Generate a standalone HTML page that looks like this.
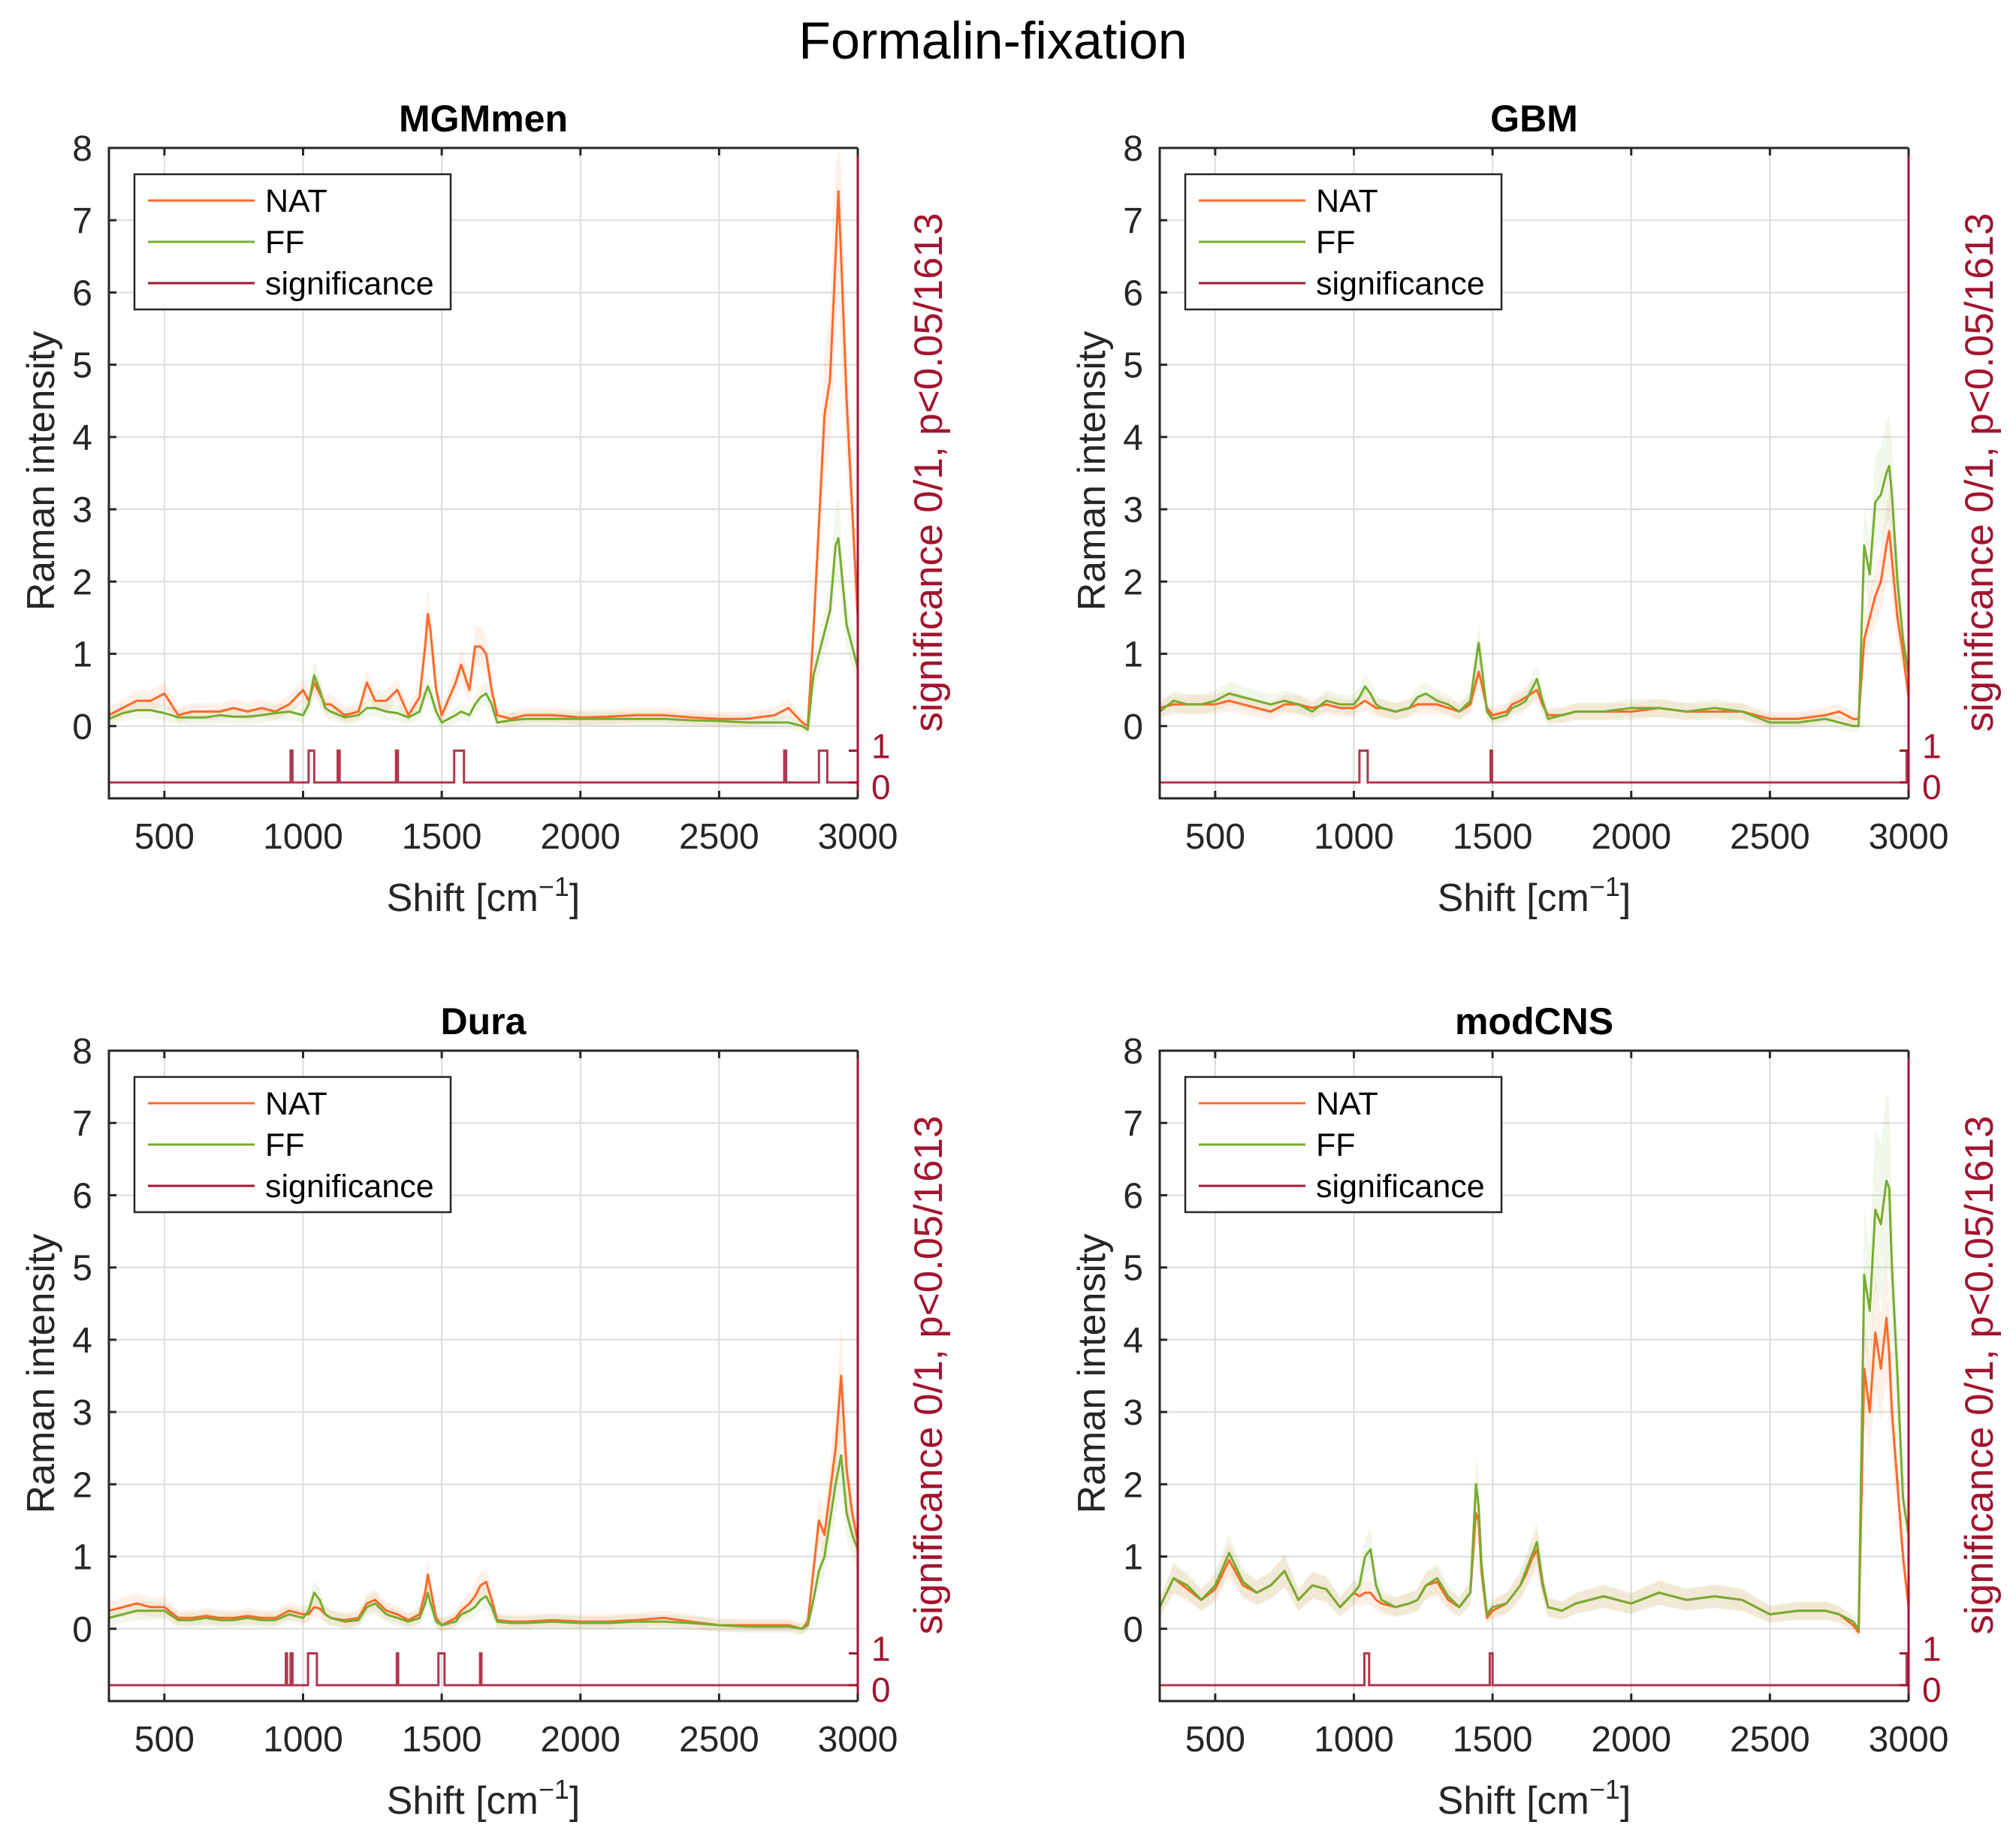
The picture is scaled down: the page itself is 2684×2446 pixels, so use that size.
<!DOCTYPE html>
<html><head><meta charset="utf-8">
<style>
html,body{margin:0;padding:0;background:#fff;}
svg{display:block;font-family:"Liberation Sans",Arial,sans-serif;}
</style></head>
<body>
<svg id="fig" width="2684" height="2446" viewBox="0 0 2684 2446" xmlns="http://www.w3.org/2000/svg">
<rect width="2684" height="2446" fill="#fff"/>
<text x="1322" y="78" font-size="70" text-anchor="middle" fill="#000">Formalin-fixation</text>
</svg>
<script>
const shifts=[300,350,400,450,500,550,600,650,700,750,800,850,900,950,1000,1020,1040,1060,1080,1100,1150,1200,1230,1260,1300,1340,1380,1420,1440,1450,1460,1480,1500,1550,1570,1600,1620,1640,1660,1680,1700,1750,1800,1900,2000,2100,2200,2300,2400,2500,2600,2700,2750,2800,2820,2840,2860,2880,2900,2920,2930,2940,2960,2980,3000];
const xTicks=[500,1000,1500,2000,2500,3000];
const yTicks=[0,1,2,3,4,5,6,7,8];
const panelTitles=["MGMmen","GBM","Dura","modCNS"];

const mgmNat=[0.15,0.25,0.35,0.35,0.45,0.15,0.2,0.2,0.2,0.25,0.2,0.25,0.2,0.3,0.5,0.35,0.6,0.45,0.3,0.3,0.15,0.2,0.6,0.35,0.35,0.5,0.15,0.4,1.1,1.55,1.3,0.5,0.15,0.6,0.85,0.5,1.1,1.1,1.0,0.5,0.15,0.1,0.15,0.15,0.12,0.13,0.15,0.15,0.12,0.1,0.1,0.15,0.25,0.05,0.0,1.3,2.8,4.3,4.8,6.5,7.4,6.5,4.5,3.0,1.5];
const mgmFF=[0.1,0.18,0.22,0.22,0.18,0.12,0.12,0.12,0.15,0.13,0.13,0.15,0.18,0.2,0.15,0.3,0.7,0.5,0.25,0.2,0.12,0.15,0.25,0.25,0.2,0.18,0.12,0.2,0.45,0.55,0.45,0.2,0.05,0.15,0.2,0.15,0.3,0.4,0.45,0.3,0.05,0.08,0.1,0.1,0.1,0.1,0.1,0.1,0.08,0.07,0.05,0.05,0.05,0.0,-0.05,0.7,1.0,1.3,1.6,2.5,2.6,2.2,1.4,1.1,0.8];
const mgmSigStart=[955,1020,1125,1335,1545,2735,2860];
const mgmSigEnd=[962,1040,1132,1342,1580,2742,2890];

const gbmNat=[0.25,0.3,0.3,0.3,0.3,0.35,0.3,0.25,0.2,0.3,0.3,0.25,0.3,0.25,0.25,0.3,0.35,0.3,0.25,0.25,0.2,0.25,0.3,0.3,0.3,0.25,0.2,0.3,0.6,0.75,0.6,0.25,0.15,0.2,0.3,0.35,0.4,0.45,0.5,0.3,0.15,0.15,0.2,0.2,0.2,0.25,0.2,0.2,0.2,0.1,0.1,0.15,0.2,0.1,0.1,1.2,1.5,1.8,2.0,2.5,2.7,2.3,1.5,1.0,0.4];
const gbmFF=[0.2,0.35,0.3,0.3,0.35,0.45,0.4,0.35,0.3,0.35,0.3,0.2,0.35,0.3,0.3,0.4,0.55,0.45,0.3,0.25,0.2,0.25,0.4,0.45,0.35,0.3,0.2,0.35,0.9,1.15,0.85,0.2,0.1,0.15,0.25,0.3,0.35,0.5,0.65,0.35,0.1,0.15,0.2,0.2,0.25,0.25,0.2,0.25,0.2,0.05,0.05,0.1,0.05,0.0,0.0,2.5,2.1,3.1,3.2,3.5,3.6,3.2,2.0,1.2,0.7];
const gbmSigStart=[1020,1493,2993];
const gbmSigEnd=[1050,1498,3000];

const duraNat=[0.25,0.3,0.35,0.3,0.3,0.15,0.15,0.18,0.15,0.15,0.18,0.15,0.15,0.25,0.2,0.2,0.3,0.28,0.2,0.15,0.12,0.15,0.35,0.4,0.25,0.2,0.12,0.2,0.5,0.75,0.55,0.15,0.05,0.15,0.25,0.35,0.45,0.6,0.65,0.4,0.12,0.1,0.1,0.12,0.1,0.1,0.12,0.15,0.1,0.05,0.05,0.05,0.05,0.0,0.1,0.8,1.5,1.3,1.9,2.5,3.0,3.5,2.2,1.6,1.2];
const duraFF=[0.15,0.2,0.25,0.25,0.25,0.12,0.12,0.15,0.12,0.12,0.15,0.12,0.12,0.2,0.15,0.25,0.5,0.4,0.2,0.15,0.1,0.12,0.3,0.35,0.2,0.15,0.1,0.15,0.35,0.5,0.35,0.1,0.05,0.1,0.2,0.25,0.3,0.4,0.45,0.3,0.1,0.08,0.08,0.1,0.08,0.08,0.1,0.1,0.08,0.05,0.03,0.03,0.03,0.0,0.05,0.4,0.8,1.0,1.5,2.0,2.2,2.4,1.6,1.3,1.1];
const duraSigStart=[938,955,1018,1338,1488,1638];
const duraSigEnd=[942,962,1050,1343,1510,1643];

const cnsNat=[0.3,0.7,0.55,0.4,0.55,0.95,0.6,0.5,0.6,0.8,0.4,0.6,0.55,0.3,0.5,0.45,0.5,0.5,0.4,0.35,0.3,0.35,0.4,0.6,0.65,0.4,0.3,0.5,1.6,1.5,0.8,0.15,0.25,0.35,0.45,0.6,0.75,0.95,1.1,0.6,0.3,0.25,0.35,0.45,0.35,0.5,0.4,0.45,0.4,0.2,0.25,0.25,0.2,0.05,-0.05,3.6,3.0,4.1,3.6,4.3,3.8,3.0,2.0,1.0,0.3];
const cnsFF=[0.3,0.7,0.6,0.4,0.6,1.05,0.65,0.5,0.6,0.8,0.4,0.6,0.55,0.3,0.5,0.6,1.0,1.1,0.6,0.4,0.3,0.35,0.4,0.6,0.7,0.45,0.3,0.5,2.0,1.7,0.9,0.2,0.3,0.35,0.45,0.6,0.8,1.0,1.2,0.65,0.3,0.25,0.35,0.45,0.35,0.5,0.4,0.45,0.4,0.2,0.25,0.25,0.2,0.1,0.0,4.9,4.4,5.8,5.6,6.2,6.1,5.0,3.5,1.8,1.3];
const cnsSigStart=[1038,1490,2993];
const cnsSigEnd=[1055,1500,3000];

const natSeries=[mgmNat,gbmNat,duraNat,cnsNat];
const ffSeries=[mgmFF,gbmFF,duraFF,cnsFF];
const sigStarts=[mgmSigStart,gbmSigStart,duraSigStart,cnsSigStart];
const sigEnds=[mgmSigEnd,gbmSigEnd,duraSigEnd,cnsSigEnd];

const NS="http://www.w3.org/2000/svg";
const svg=document.getElementById('fig');
function mk(tag,attrs,parent){const e=document.createElementNS(NS,tag);for(const k in attrs)e.setAttribute(k,attrs[k]);(parent||svg).appendChild(e);return e;}
const lefts=[145,1544],tops=[197,1399];
const W=997,H=866,XMIN=300,XMAX=3000,YMIN=-1,YMAX=8;
const NATC="#ff6929",FFC="#77ac30",SIGC="#a2142f";

for(let p=0;p<4;p++){
  const L=lefts[p%2],T=tops[Math.floor(p/2)];
  const xs=v=>L+(v-XMIN)/(XMAX-XMIN)*W;
  const ys=v=>T+(YMAX-v)/(YMAX-YMIN)*H;
  const sigY=s=>ys(-0.78+s*0.44);
  const g=mk('g',{});
  
  
  xTicks.forEach(t=>{const l=mk('line',{x1:xs(t),x2:xs(t),y1:T,y2:T+H,stroke:'#dcdcdc','stroke-width':2},g);
    });
  yTicks.forEach(t=>{const l=mk('line',{x1:L,x2:L+W,y1:ys(t),y2:ys(t),stroke:'#dcdcdc','stroke-width':2},g);
    });
  [[natSeries[p],NATC,'nat'],[ffSeries[p],FFC,'ff']].forEach(([arr,c,nm])=>{
    let up='',dn='';
    shifts.forEach((s,i)=>{const b=0.08+0.18*Math.abs(arr[i]);
      up+=(i?'L':'M')+xs(s).toFixed(1)+','+Math.max(T,ys(arr[i]+b)).toFixed(1);});
    for(let i=shifts.length-1;i>=0;i--){const b=0.08+0.18*Math.abs(arr[i]);dn+='L'+xs(shifts[i]).toFixed(1)+','+ys(arr[i]-b).toFixed(1);}
    const band=mk('path',{d:up+dn+'Z',fill:c,'fill-opacity':0.1,stroke:'none'},g);
    
  });
  [[natSeries[p],NATC,'nat'],[ffSeries[p],FFC,'ff']].forEach(([arr,c,nm])=>{
    const d=shifts.map((s,i)=>(i?'L':'M')+xs(s).toFixed(1)+','+ys(arr[i]).toFixed(1)).join('');
    const pl=mk('path',{d:d,fill:'none',stroke:c,'stroke-width':3,'stroke-linejoin':'round'},g);
    
  });
  let sd='M'+xs(XMIN)+','+sigY(0);
  sigStarts[p].forEach((s,i)=>{const e=sigEnds[p][i];sd+='L'+xs(s).toFixed(1)+','+sigY(0)+'L'+xs(s).toFixed(1)+','+sigY(1)+'L'+xs(e).toFixed(1)+','+sigY(1)+'L'+xs(e).toFixed(1)+','+sigY(0);});
  sd+='L'+xs(XMAX)+','+sigY(0);
  const sp=mk('path',{d:sd,fill:'none',stroke:SIGC,'stroke-width':3,'stroke-opacity':0.85},g);
  
  const ax=mk('path',{d:`M${L+W},${T}L${L},${T}L${L},${T+H}L${L+W},${T+H}`,fill:'none',stroke:'#262626','stroke-width':3},g);
  
  const ra=mk('line',{x1:L+W,x2:L+W,y1:T,y2:T+H,stroke:SIGC,'stroke-width':3},g);
  
  xTicks.forEach(t=>{
    mk('line',{x1:xs(t),x2:xs(t),y1:T+H,y2:T+H-10,stroke:'#262626','stroke-width':3},g);
    mk('line',{x1:xs(t),x2:xs(t),y1:T,y2:T+10,stroke:'#262626','stroke-width':3},g);
    const tx=mk('text',{x:xs(t),y:T+H+67,'font-size':48,'text-anchor':'middle',fill:'#262626'},g);tx.textContent=t;
    
  });
  yTicks.forEach(t=>{
    mk('line',{x1:L,x2:L+10,y1:ys(t),y2:ys(t),stroke:'#262626','stroke-width':3},g);
    const ty=mk('text',{x:L-22,y:ys(t)+17,'font-size':48,'text-anchor':'end',fill:'#262626'},g);ty.textContent=t;
    
  });
  [0,1].forEach(s=>{
    mk('line',{x1:L+W,x2:L+W-12,y1:sigY(s),y2:sigY(s),stroke:SIGC,'stroke-width':3},g);
    const tr=mk('text',{x:L+W+18,y:sigY(s)+(s?10:22),'font-size':46,fill:SIGC},g);tr.textContent=s;
    
  });
  const tt=mk('text',{x:L+W/2,y:T-22,'font-size':50,'font-weight':'bold','text-anchor':'middle',fill:'#000'},g);tt.textContent=panelTitles[p];
  
  const xl=mk('text',{x:L+W/2,y:T+H+150,'font-size':52,'text-anchor':'middle',fill:'#262626'},g);
  xl.innerHTML='Shift [cm<tspan dy="-20" font-size="36">−1</tspan><tspan dy="20">]</tspan>';
  
  const yl=mk('text',{x:0,y:0,'font-size':52,'text-anchor':'middle',fill:'#262626',transform:`translate(${L-73},${T+430}) rotate(-90)`},g);yl.textContent='Raman intensity';
  
  const rl=mk('text',{x:0,y:0,'font-size':53,'text-anchor':'middle',fill:SIGC,transform:`translate(${L+W+112},${T+432}) rotate(-90)`},g);rl.textContent='significance 0/1, p<0.05/1613';
  
  const lg=mk('g',{},g);
  
  mk('rect',{x:L+34,y:T+35,width:421,height:180,fill:'#fff',stroke:'#262626','stroke-width':2.5},lg);
  [['NAT',NATC],['FF',FFC],['significance',SIGC]].forEach(([lab,c],i)=>{
    const yy=T+70+i*55;
    const ln=mk('line',{x1:L+52,x2:L+194,y1:yy,y2:yy,stroke:c,'stroke-width':3},lg);
    
    const lt=mk('text',{x:L+208,y:yy+15,'font-size':43,fill:'#000'},lg);lt.textContent=lab;
    
  });
}
</script>
</body></html>
